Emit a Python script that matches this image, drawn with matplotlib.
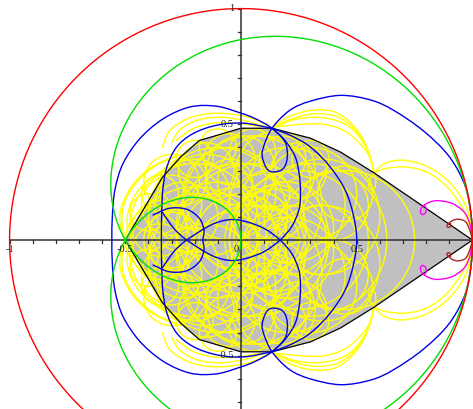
import numpy as np
import matplotlib
matplotlib.use("Agg")
import matplotlib.pyplot as plt
from matplotlib.path import Path
from matplotlib.patches import PathPatch, Polygon, Circle

# ---------------------------------------------------------------------------
# Polynomial maps evaluated on |z| = 1 (coefficients, constant term first)
red_coef = [0.0, 1.0]
green_coef = [0.0, 0.5, 0.5]

# Common region (upper half, the lower half is its mirror image)
region_upper = [(1.0, 0.0), (0.575, 0.29), (0.43, 0.38), (0.30, 0.44), (0.134, 0.483),
                (0.0, 0.483), (-0.18, 0.43), (-0.26, 0.36), (-0.34, 0.27), (-0.5, 0.0)]

# Blue curves (upper halves)
blue_outer = [(1.0, 0.0), (0.995, 0.10), (0.97, 0.23), (0.90, 0.36), (0.79, 0.47), (0.66, 0.56),
              (0.56, 0.605), (0.43, 0.625), (0.30, 0.60), (0.21, 0.56), (0.134, 0.483),
              (0.097, 0.402), (0.092, 0.359), (0.111, 0.309), (0.14, 0.294), (0.183, 0.309),
              (0.20, 0.359), (0.19, 0.424), (0.134, 0.483), (0.06, 0.525), (0.0, 0.548),
              (-0.105, 0.578), (-0.22, 0.575), (-0.336, 0.524), (-0.437, 0.438), (-0.51, 0.33),
              (-0.545, 0.216), (-0.556, 0.10), (-0.558, 0.0)]
blue_left = [(0.134, 0.483), (0.01, 0.505), (-0.105, 0.496), (-0.207, 0.46), (-0.278, 0.402),
             (-0.32, 0.316), (-0.338, 0.216), (-0.343, 0.10), (-0.344, 0.0)]
blue_right = [(0.134, 0.483), (0.212, 0.453), (0.30, 0.402), (0.385, 0.316), (0.45, 0.216),
              (0.485, 0.11), (0.50, 0.0)]
blue_inner = [(0.134, 0.483), (0.19, 0.43), (0.234, 0.36), (0.252, 0.28), (0.257, 0.20),
              (0.25, 0.13), (0.22, 0.06), (0.169, 0.0), (0.10, -0.05), (0.02, -0.08),
              (-0.05, -0.088), (-0.13, -0.065), (-0.234, 0.0), (-0.29, 0.05), (-0.34, 0.12)]
blue_cap = [(-0.38, 0.108), (-0.31, 0.137), (-0.235, 0.133), (-0.18, 0.094), (-0.16, 0.043),
            (-0.165, 0.0)]

# Magenta and brown lobes with their small loops (upper halves)
magenta_lobe = [(1.0, 0.0), (0.988, 0.072), (0.963, 0.122), (0.912, 0.158), (0.854, 0.17),
                (0.818, 0.165), (0.79, 0.15), (0.778, 0.135), (0.776, 0.118), (0.786, 0.11),
                (0.798, 0.12), (0.799, 0.14), (0.79, 0.15)]
brown_lobe = [(1.0, 0.0), (0.988, 0.043), (0.97, 0.079), (0.94, 0.09), (0.915, 0.085),
              (0.898, 0.072), (0.89, 0.064), (0.892, 0.056), (0.90, 0.055), (0.906, 0.063),
              (0.904, 0.071), (0.898, 0.072)]

# Yellow arcs outside the common region (upper halves)
yellow_arcs = [
    [(1.0, 0.0), (0.99, 0.09), (0.955, 0.18), (0.89, 0.26), (0.80, 0.32), (0.70, 0.345),
     (0.62, 0.33), (0.575, 0.29)],
    [(1.0, 0.0), (0.985, 0.07), (0.95, 0.15), (0.89, 0.23), (0.81, 0.29), (0.72, 0.315),
     (0.63, 0.31), (0.575, 0.29)],
    [(0.575, 0.29), (0.556, 0.26), (0.552, 0.23), (0.565, 0.215), (0.58, 0.23), (0.582, 0.265),
     (0.575, 0.29)],
    [(0.134, 0.483), (0.20, 0.53), (0.30, 0.56), (0.40, 0.555), (0.48, 0.50), (0.54, 0.41),
     (0.575, 0.29)],
    [(0.134, 0.483), (0.21, 0.52), (0.31, 0.545), (0.41, 0.535), (0.49, 0.48), (0.545, 0.395),
     (0.575, 0.29)],
    [(0.15, 0.49), (0.23, 0.52), (0.33, 0.53), (0.43, 0.51), (0.50, 0.46), (0.55, 0.38),
     (0.575, 0.29)],
    [(0.16, 0.49), (0.26, 0.50), (0.36, 0.50), (0.45, 0.47), (0.52, 0.41), (0.56, 0.35),
     (0.575, 0.29)],
    [(0.134, 0.483), (0.05, 0.525), (-0.05, 0.545), (-0.15, 0.545), (-0.24, 0.52),
     (-0.31, 0.47), (-0.34, 0.40)],
    [(0.10, 0.49), (0.02, 0.515), (-0.08, 0.53), (-0.18, 0.52), (-0.26, 0.48), (-0.30, 0.42)],
    [(0.08, 0.49), (-0.02, 0.505), (-0.12, 0.505), (-0.21, 0.48), (-0.28, 0.43)],
    [(-0.26, 0.37), (-0.34, 0.34), (-0.42, 0.29), (-0.48, 0.22), (-0.52, 0.13), (-0.52, 0.05),
     (-0.50, 0.0)],
    [(-0.28, 0.36), (-0.37, 0.32), (-0.45, 0.25), (-0.50, 0.17), (-0.515, 0.09),
     (-0.505, 0.02)],
    [(-0.24, 0.33), (-0.32, 0.31), (-0.40, 0.26), (-0.46, 0.19), (-0.49, 0.11), (-0.49, 0.04)],
]

# Yellow circles inside the region: centre x, centre y, radius
yc_x = [0.20, 0.30, 0.45, 0.05, 0.25, -0.10, -0.20, 0.00, 0.10, -0.30, 0.35,
        -0.35, 0.15, -0.05,
        0.09, 0.11, -0.05, -0.20, -0.30, 0.00, 0.15, 0.30, 0.20, -0.15, 0.05,
        -0.25, 0.40, -0.10, 0.25, -0.35, 0.00, 0.18, -0.05,
        -0.35, -0.40, -0.25, -0.20, -0.10, 0.05, 0.10, -0.15, 0.20, -0.30,
        0.30, 0.45, 0.15, -0.05, 0.35, -0.20]
yc_y = [0.00, 0.00, 0.00, 0.00, 0.00, 0.00, 0.00, 0.00, 0.00, 0.00, 0.00,
        0.00, 0.00, 0.00,
        0.10, 0.20, 0.20, 0.20, 0.15, 0.30, 0.30, 0.20, 0.15, 0.30, 0.15,
        0.25, 0.15, 0.10, 0.30, 0.20, 0.05, 0.35, 0.35,
        0.05, 0.12, 0.10, 0.35, 0.40, 0.38, 0.25, 0.15, 0.05, 0.25,
        0.35, 0.20, 0.12, 0.25, 0.10, 0.05]
yc_r = [0.095, 0.33, 0.30, 0.33, 0.30, 0.25, 0.20, 0.20, 0.15, 0.12, 0.15,
        0.15, 0.22, 0.12,
        0.108, 0.10, 0.20, 0.15, 0.13, 0.15, 0.17, 0.20, 0.25, 0.12, 0.30,
        0.10, 0.15, 0.30, 0.12, 0.08, 0.28, 0.10, 0.11,
        0.12, 0.08, 0.15, 0.08, 0.08, 0.10, 0.20, 0.22, 0.20, 0.12,
        0.08, 0.12, 0.12, 0.10, 0.25, 0.28]

# Axis ticks
x_major = [-1.0, -0.5, 0.5]
x_major_labels = ["-1", "-0.5", "0.5"]
y_major = [-0.5, 0.5, 1.0]
y_major_labels = ["-0.5", "0.5", "1"]

# ---------------------------------------------------------------------------
def mirror(pts):
    return [(x, -y) for (x, y) in pts]


def through_axis(pts):
    """Upper half ending on the real axis, continued by its mirror image."""
    return list(pts) + mirror(pts[:-1][::-1])


def smooth_path(pts, closed=False):
    p = np.asarray(pts, float)
    if closed:
        p = np.vstack([p, p[:1]])
        ext = np.vstack([p[-2:-1], p, p[1:2]])
    else:
        ext = np.vstack([2 * p[0] - p[1], p, 2 * p[-1] - p[-2]])
    verts = [p[0]]
    codes = [Path.MOVETO]
    for i in range(1, len(ext) - 2):
        p0, p1, p2, p3 = ext[i - 1], ext[i], ext[i + 1], ext[i + 2]
        verts += [p1 + (p2 - p0) / 6.0, p2 - (p3 - p1) / 6.0, p2]
        codes += [Path.CURVE4] * 3
    return Path(verts, codes)


def draw(ax, pts, color, lw, z, closed=False):
    ax.add_patch(PathPatch(smooth_path(pts, closed), fill=False, ec=color, lw=lw,
                           zorder=z, capstyle="round", joinstyle="round"))


W, H, DPI = 473, 409, 100
fig = plt.figure(figsize=(W / DPI, H / DPI), dpi=DPI)
ax = fig.add_axes([0, 0, 1, 1])
ax.set_xlim(-1.041, 1.002)
ax.set_ylim(-0.730, 1.037)
ax.set_aspect("equal")
ax.axis("off")

YELLOW = "#ffff00"
BLUE = "#0000e6"
GREEN = "#00e000"
RED = "#ff0000"
MAGENTA = "#ff00ff"
BROWN = "#a52a2a"
LW = 1.0

# common region
poly = region_upper + mirror(region_upper[1:-1][::-1])
ax.add_patch(Polygon(poly, closed=True, fc="#c0c0c0", ec="none", zorder=1))

# yellow family
for cx, cy, r in zip(yc_x, yc_y, yc_r):
    ax.add_patch(Circle((cx, cy), r, fill=False, ec=YELLOW, lw=LW, zorder=2))
    if cy != 0:
        ax.add_patch(Circle((cx, -cy), r, fill=False, ec=YELLOW, lw=LW, zorder=2))
for arc in yellow_arcs:
    draw(ax, arc, YELLOW, LW, 2)
    draw(ax, mirror(arc), YELLOW, LW, 2)

# outline of the common region
ax.add_patch(Polygon(poly, closed=True, fill=False, ec="black", lw=0.9, zorder=3))

# coordinate axes
ax.plot([-1.0, 1.0], [0, 0], color="#303030", lw=1.1, zorder=3.5)
ax.plot([0, 0], [-0.74, 1.0], color="#303030", lw=1.1, zorder=3.5)
tk = 3.0 / 231.5
for v in np.arange(-10, 11) / 10.0:
    ax.plot([v, v], [0, -tk], color="#303030", lw=0.9, zorder=3.5)
for v in np.arange(-7, 11) / 10.0:
    ax.plot([-tk, 0], [v, v], color="#303030", lw=0.9, zorder=3.5)
lab = dict(family=["Liberation Serif", "DejaVu Serif"], fontsize=7.5, color="#202020", zorder=8)
for v, s in zip(x_major, x_major_labels):
    ax.text(v, -0.022, s, ha="center", va="top", **lab)
for v, s in zip(y_major, y_major_labels):
    ax.text(-0.03, v, s, ha="right", va="center", **lab)
ax.text(-0.008, -0.022, "0", ha="right", va="top", **lab)

# magenta and brown
draw(ax, magenta_lobe, MAGENTA, LW, 4)
draw(ax, mirror(magenta_lobe), MAGENTA, LW, 4)
draw(ax, brown_lobe, BROWN, LW, 4)
draw(ax, mirror(brown_lobe), BROWN, LW, 4)

# blue curves
draw(ax, through_axis(blue_outer)[:-1], BLUE, LW, 5, closed=True)
draw(ax, through_axis(blue_left), BLUE, LW, 5)
draw(ax, through_axis(blue_right), BLUE, LW, 5)
draw(ax, blue_inner, BLUE, LW, 5)
draw(ax, mirror(blue_inner), BLUE, LW, 5)
draw(ax, through_axis(blue_cap), BLUE, LW, 5)

# red and green boundary curves
t = np.linspace(0, 2 * np.pi, 721)
z = np.exp(1j * t)
for coef, col in ((green_coef, GREEN), (red_coef, RED)):
    w = np.polynomial.polynomial.polyval(z, coef)
    ax.plot(w.real, w.imag, color=col, lw=LW, zorder=6)

fig.savefig("out.png", dpi=DPI)
